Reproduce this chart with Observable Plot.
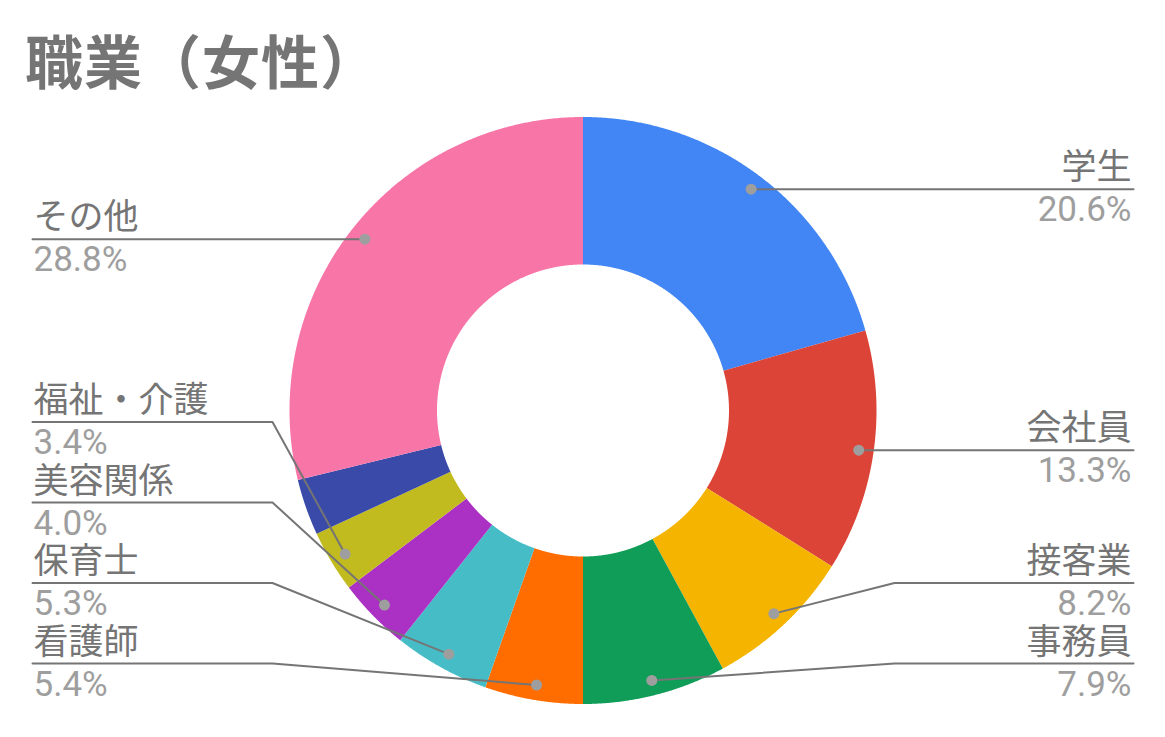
<!DOCTYPE html>
<html>
<head>
<meta charset="utf-8">
<script src="https://cdn.jsdelivr.net/npm/d3@7"></script>
<script src="https://cdn.jsdelivr.net/npm/@observablehq/plot@0.6"></script>
<style>
  html, body { margin: 0; padding: 0; background: #fff; }
  #wrap { width: 1165px; }
  #title { position: relative; height: 110px; }
  #title span {
    position: absolute; left: 25px; top: 30px; line-height: 1;
    font-family: "Noto Sans CJK JP", Roboto, sans-serif; font-weight: 700;
    font-size: 58px; color: #757575; white-space: nowrap; letter-spacing: 1px;
  }
  #chart svg { display: block; }
</style>
</head>
<body>
<div id="wrap">
  <div id="title"><span>職業（女性）</span></div>
  <div id="chart"></div>
</div>
<script>
// ---- data ----
const categories = ["学生", "会社員", "接客業", "事務員", "看護師", "保育士", "美容関係", "福祉・介護", "未表示", "その他"];
const values = [20.6, 13.3, 8.2, 7.9, 5.4, 5.3, 4.0, 3.4, 3.1, 28.8];
const showLabel = [true, true, true, true, true, true, true, true, false, true];
const colors = ["#4285F4", "#DB4437", "#F4B400", "#0F9D58", "#FF6D00", "#46BDC6", "#AB30C4", "#C2BB1F", "#3A4AA9", "#F875A8"];

// ---- layout ----
const W = 1165, H = 627;
const cx = 583, cy = 300.5, rOuter = 293.5, rInner = 146, rDot = 278, bendDx = 311;
const leftX = 32, rightX = 1133, gap = 80.5, maxY = 553;

const rows = categories.map((c, i) => ({cat: c, value: values[i], label: showLabel[i]}));
const arcs = d3.pie().sort(null).value(d => d.value).startAngle(0).endAngle(2 * Math.PI)(rows);

// slice polygons (outer arc = x1,y1 ; inner arc = x2,y2)
const slicePts = [];
for (const a of arcs) {
  const n = Math.max(4, Math.ceil((a.endAngle - a.startAngle) / 0.004));
  for (let k = 0; k <= n; k++) {
    const t = a.startAngle + (a.endAngle - a.startAngle) * k / n;
    slicePts.push({
      cat: a.data.cat,
      x1: cx + rOuter * Math.sin(t), y1: cy - rOuter * Math.cos(t),
      x2: cx + rInner * Math.sin(t), y2: cy - rInner * Math.cos(t)
    });
  }
}

// labels
const labels = arcs.filter(a => a.data.label).map(a => {
  const m = (a.startAngle + a.endAngle) / 2;
  return {
    cat: a.data.cat, value: a.data.value,
    side: m < Math.PI ? "right" : "left",
    dx: cx + rDot * Math.sin(m), dy: cy - rDot * Math.cos(m)
  };
});
for (const side of ["left", "right"]) {
  const L = labels.filter(d => d.side === side).sort((a, b) => a.dy - b.dy);
  L.forEach((d, i) => { d.ly = i === 0 ? d.dy : Math.max(d.dy, L[i - 1].ly + gap); });
  if (L.length && L[L.length - 1].ly > maxY) L[L.length - 1].ly = maxY;
  for (let i = L.length - 2; i >= 0; i--) L[i].ly = Math.min(L[i].ly, L[i + 1].ly - gap);
}
const leaderPts = [];
for (const d of labels) {
  const edge = d.side === "right" ? rightX : leftX;
  const bend = d.side === "right" ? cx + bendDx : cx - bendDx;
  leaderPts.push({cat: d.cat, x: edge, y: d.ly});
  leaderPts.push({cat: d.cat, x: bend, y: d.ly});
  leaderPts.push({cat: d.cat, x: d.dx, y: d.dy});
}
const right = labels.filter(d => d.side === "right");
const left = labels.filter(d => d.side === "left");
const fam = "Roboto, 'Noto Sans CJK JP', sans-serif";
const pct = d => d.value.toFixed(1) + "%";

const chart = Plot.plot({
  width: W, height: H, margin: 0,
  x: {domain: [0, W], range: [0, W], axis: null},
  y: {domain: [0, H], range: [0, H], axis: null},
  color: {domain: categories, range: colors},
  style: {background: "white", fontFamily: fam},
  marks: [
    Plot.area(slicePts, {x1: "x1", y1: "y1", x2: "x2", y2: "y2", z: "cat", fill: "cat", curve: "linear"}),
    Plot.line(leaderPts, {x: "x", y: "y", z: "cat", stroke: "#757575", strokeWidth: 2}),
    Plot.dot(labels, {x: "dx", y: "dy", r: 5.5, fill: "#9e9e9e"}),
    Plot.text(right, {x: rightX - 2, y: d => d.ly - 10, text: "cat", textAnchor: "end", lineAnchor: "bottom", fontSize: 35, fill: "#757575"}),
    Plot.text(right, {x: rightX - 2, y: d => d.ly + 32, text: pct, textAnchor: "end", lineAnchor: "bottom", fontSize: 35, fill: "#9e9e9e"}),
    Plot.text(left, {x: leftX + 1, y: d => d.ly - 10, text: "cat", textAnchor: "start", lineAnchor: "bottom", fontSize: 35, fill: "#757575"}),
    Plot.text(left, {x: leftX + 1, y: d => d.ly + 32, text: pct, textAnchor: "start", lineAnchor: "bottom", fontSize: 35, fill: "#9e9e9e"})
  ]
});
document.getElementById("chart").appendChild(chart);
</script>
</body>
</html>
